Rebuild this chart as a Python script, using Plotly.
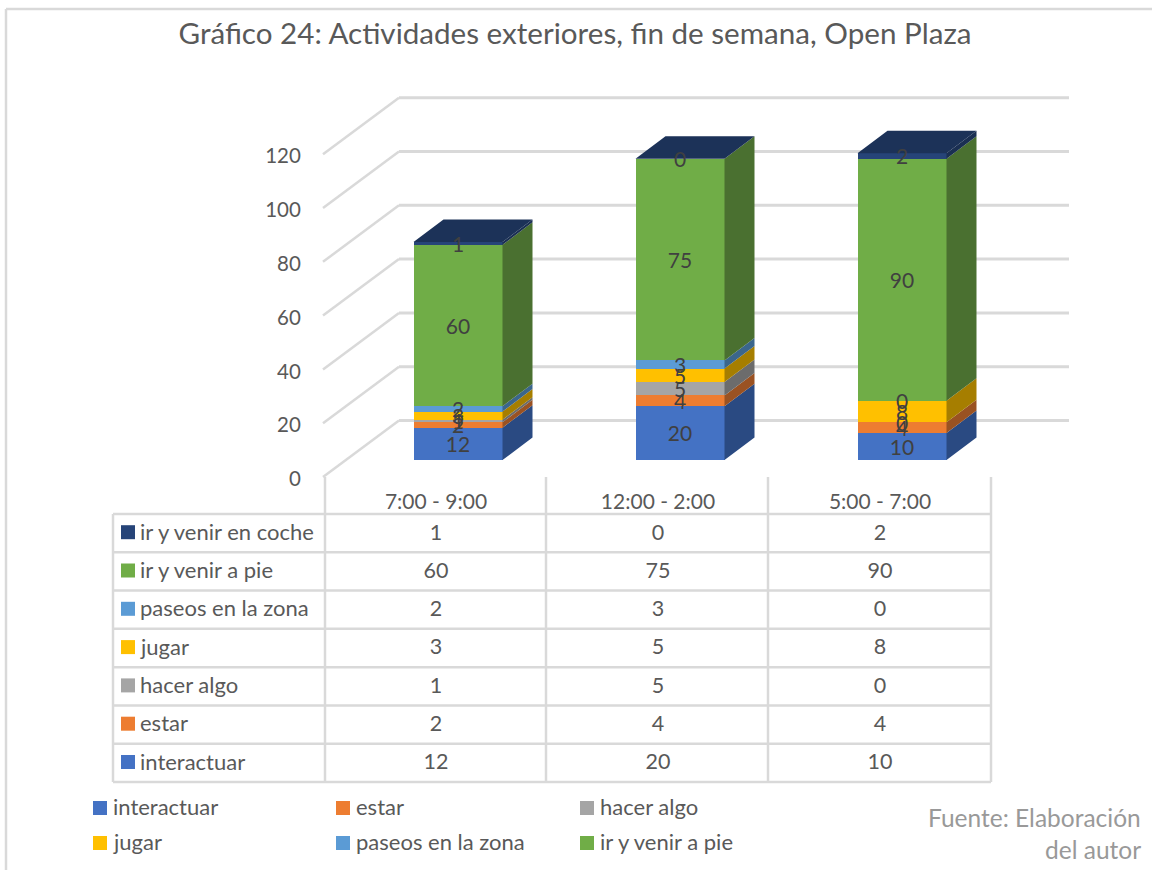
import plotly.graph_objects as go

categories = ["7:00 - 9:00", "12:00 - 2:00", "5:00 - 7:00"]
series_names = ["interactuar", "estar", "hacer algo", "jugar", "paseos en la zona", "ir y venir a pie", "ir y venir en coche"]
interactuar = [12, 20, 10]
estar = [2, 4, 4]
hacer_algo = [1, 5, 0]
jugar = [3, 5, 8]
paseos = [2, 3, 0]
a_pie = [60, 75, 90]
en_coche = [1, 0, 2]
series_values = [interactuar, estar, hacer_algo, jugar, paseos, a_pie, en_coche]
y_ticks = [0, 20, 40, 60, 80, 100, 120]

front = ["#4472C4", "#ED7D31", "#A5A5A5", "#FFC000", "#5B9BD5", "#70AD47", "#264478"]
side = ["#2A4A82", "#9A5222", "#6C6C6C", "#A67E00", "#3B668C", "#4A7030", "#1A2F52"]
top_color = "#1C3258"
GRID = "#D9D9D9"
TXT = "#595959"
FONT = "Lato"

W, H = 1152, 870
PX_Y = 2.69          # pixels per value unit
PX_X = 222           # pixels per category
BAR_W = 89 / PX_X
DX, DY = 30 / PX_X, 22.5 / PX_Y   # bar depth in axis units

fig = go.Figure()
cats = list(range(len(categories)))

# front faces
for name, vals, col in zip(series_names, series_values, front):
    fig.add_trace(go.Bar(x=cats, y=vals, name=name, width=BAR_W, marker=dict(color=col, line=dict(width=0)),
                         xaxis="x", yaxis="y", showlegend=False))

# side faces, top faces, value labels (derived from the stacked values)
lab_x, lab_y, lab_t = [], [], []
totals = [0] * len(cats)
for vals, col in zip(series_values, side):
    xs, ys = [], []
    for i, v in enumerate(vals):
        b, t = totals[i], totals[i] + v
        xr = i + BAR_W / 2
        xs += [xr, xr + DX, xr + DX, xr, xr, None]
        ys += [b, b + DY, t + DY, t, b, None]
        lab_x.append(i); lab_y.append((b + t) / 2); lab_t.append(str(v))
        totals[i] = t
    fig.add_trace(go.Scatter(x=xs, y=ys, mode="lines", fill="toself", fillcolor=col, line=dict(width=0),
                             hoverinfo="skip", showlegend=False, xaxis="x", yaxis="y"))
xs, ys = [], []
for i, t in enumerate(totals):
    xl, xr = i - BAR_W / 2, i + BAR_W / 2
    xs += [xl, xl + DX, xr + DX, xr, xl, None]
    ys += [t, t + DY, t + DY, t, t, None]
fig.add_trace(go.Scatter(x=xs, y=ys, mode="lines", fill="toself", fillcolor=top_color, line=dict(width=0),
                         hoverinfo="skip", showlegend=False, xaxis="x", yaxis="y"))
fig.add_trace(go.Scatter(x=lab_x, y=lab_y, text=lab_t, mode="text", textposition="middle center",
                         textfont=dict(family=FONT, size=21, color="#404040"), showlegend=False,
                         hoverinfo="skip", xaxis="x", yaxis="y4"))

# data table values
tx, ty, tt = [], [], []
for r, vals in enumerate(series_values):
    for i, v in enumerate(vals):
        tx.append(i); ty.append(r); tt.append(str(v))
fig.add_trace(go.Scatter(x=tx, y=ty, text=tt, mode="text", textposition="middle center",
                         textfont=dict(family=FONT, size=21.5, color=TXT), showlegend=False,
                         hoverinfo="skip", xaxis="x2", yaxis="y3"))
# keeps the value axis drawn
fig.add_trace(go.Scatter(x=[0], y=[0], mode="markers", marker=dict(opacity=0), showlegend=False,
                         hoverinfo="skip", xaxis="x2", yaxis="y2"))

shapes, annos = [], []
def pline(x0, y0, x1, y1, w=2.5):
    shapes.append(dict(type="line", xref="paper", yref="paper", x0=x0 / W, x1=x1 / W, y0=1 - y0 / H, y1=1 - y1 / H,
                       line=dict(color=GRID, width=w), layer="below"))

# chart frame
pline(6, 9, 1152, 9)
pline(6, 9, 6, 870)

# walls: gridlines
TICK_SHIFT = 2 / PX_Y   # tick labels sit on an axis 2 px lower than the wall lines
wall_dy = 56.5 / PX_Y
for v in y_ticks:
    g = v + TICK_SHIFT
    shapes.append(dict(type="line", xref="paper", yref="y2", x0=323 / W, x1=399 / W, y0=g, y1=g + wall_dy,
                       line=dict(color=GRID, width=2.5), layer="below"))
    shapes.append(dict(type="line", xref="paper", yref="y2", x0=399 / W, x1=1069 / W, y0=g + wall_dy, y1=g + wall_dy,
                       line=dict(color=GRID, width=3), layer="below"))

# table lines
for x in [325, 546, 768, 991]:
    pline(x, 477, x, 782)
pline(113, 514, 113, 782)
rows_y = [514 + i * (782 - 514) / 7 for i in range(8)]
for y in rows_y:
    pline(113, y, 991, y)

def swatch(x, y, col):
    shapes.append(dict(type="rect", xref="paper", yref="paper", x0=x / W, x1=(x + 14) / W, y0=1 - y / H, y1=1 - (y + 14) / H,
                       fillcolor=col, line=dict(width=0), layer="above"))

def label(x, y, text, size=22, color=TXT, anchor="left"):
    annos.append(dict(xref="paper", yref="paper", x=x / W, y=1 - y / H, text=text, showarrow=False, xanchor=anchor,
                      yanchor="middle", font=dict(family=FONT, size=size, color=color), borderpad=0, borderwidth=0))

# table row keys
for r, (name, col) in enumerate(zip(series_names, front)):
    yc = 762 - r * 38.3
    swatch(121, yc - 7, col)
    label(140, yc - 1, name)

# legend (seventh entry is clipped in the original)
leg_x = [93, 336, 580]
leg_y = [808, 843]
for k, (name, col) in enumerate(zip(series_names[:6], front)):
    lx, ly = leg_x[k % 3], leg_y[k // 3]
    swatch(lx, ly - 7, col)
    label(lx + 20, ly - 2, name)

label(1141, 817, "Fuente: Elaboración", size=24.5, color="#999999", anchor="right")
label(1141, 849, "del autor", size=24.5, color="#999999", anchor="right")

fig.update_layout(
    width=W, height=H, margin=dict(l=0, r=0, t=0, b=0), paper_bgcolor="white", plot_bgcolor="rgba(0,0,0,0)",
    barmode="stack", bargap=0, showlegend=False,
    title=dict(text="Gráfico 24: Actividades exteriores, fin de semana, Open Plaza", x=575 / W, xanchor="center",
               y=1 - 34 / H, yanchor="middle", font=dict(family=FONT, size=29.6, color=TXT)),
    shapes=shapes, annotations=annos,
    xaxis=dict(domain=[0, 1], range=[(0 - 458) / PX_X, (W - 458) / PX_X], visible=False, fixedrange=True),
    yaxis=dict(domain=[0, 1], range=[(460 - H) / PX_Y, 460 / PX_Y], visible=False, fixedrange=True),
    xaxis2=dict(overlaying="x", range=[(0 - 436) / PX_X, (W - 436) / PX_X], anchor="free", position=1 - 487 / H,
                tickmode="array", tickvals=cats, ticktext=categories, showgrid=False, zeroline=False, showline=False,
                ticks="", tickfont=dict(family=FONT, size=21, color=TXT), fixedrange=True),
    yaxis2=dict(overlaying="y", range=[(479 - H) / PX_Y, 479 / PX_Y], anchor="free", position=323 / W,
                tickmode="array", tickvals=y_ticks, showgrid=False, zeroline=False, showline=False,
                ticks="outside", ticklen=18, tickcolor="rgba(0,0,0,0)",
                tickfont=dict(family=FONT, size=20.5, color=TXT), fixedrange=True),
    yaxis3=dict(overlaying="y", range=[(764 - H) / 38.3, 764 / 38.3], visible=False, fixedrange=True),
    yaxis4=dict(overlaying="y", range=[(463 - H) / PX_Y, 463 / PX_Y], visible=False, fixedrange=True),
)

fig.write_html("out.html", config={"displayModeBar": False}, post_script="document.body.style.margin='0';")
